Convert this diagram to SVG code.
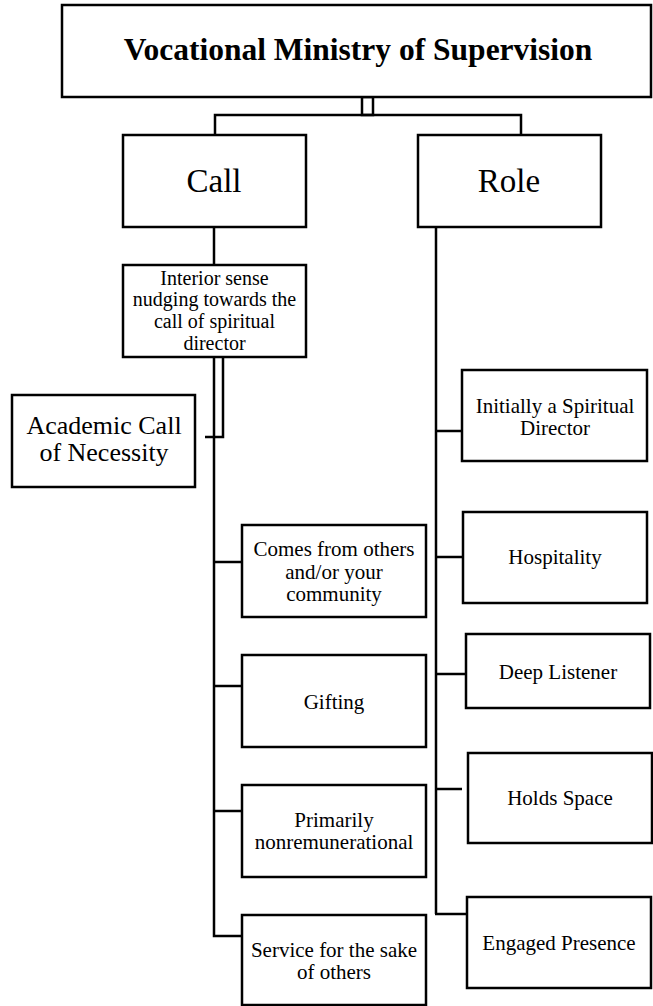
<svg xmlns="http://www.w3.org/2000/svg" width="653" height="1006" viewBox="0 0 653 1006">
<style>
.box{fill:#fff;stroke:#000;stroke-width:2.5}
.ln{fill:none;stroke:#000;stroke-width:2.5}
text{font-family:"Liberation Serif","Times New Roman",serif;fill:#000;text-anchor:middle}
.t{font-size:21px}
.m{font-size:20px}
.a{font-size:26px}
.h{font-size:33px}
.ti{font-size:31.5px;font-weight:bold}
</style>
<rect width="653" height="1006" fill="#fff"/>
<g id="connectors">
<rect class="ln" x="362" y="97" width="11" height="18"/>
<polyline class="ln" points="215,135 215,115 521,115 521,135"/>
<line class="ln" x1="214" y1="227" x2="214" y2="265"/>
<line class="ln" x1="436" y1="227" x2="436" y2="914"/>
<polyline class="ln" points="223,357 223,437 205,437"/>
<polyline class="ln" points="214,357 214,936 242,936"/>
<line class="ln" x1="214" y1="562" x2="242" y2="562"/>
<line class="ln" x1="214" y1="686" x2="242" y2="686"/>
<line class="ln" x1="214" y1="811" x2="242" y2="811"/>
<line class="ln" x1="436" y1="431" x2="462" y2="431"/>
<line class="ln" x1="436" y1="557" x2="463" y2="557"/>
<line class="ln" x1="436" y1="674" x2="466" y2="674"/>
<line class="ln" x1="436" y1="789" x2="462" y2="789"/>
<line class="ln" x1="435" y1="914" x2="467" y2="914"/>
</g>
<g id="top"><rect class="box" x="62" y="5" width="589" height="92"/><text class="ti" x="358" y="60">Vocational Ministry of Supervision</text></g>
<g id="call"><rect class="box" x="123" y="135" width="183" height="92"/><text class="h" x="214" y="192">Call</text></g>
<g id="role"><rect class="box" x="418" y="135" width="183" height="92"/><text class="h" x="509" y="192">Role</text></g>
<g id="interior"><rect class="box" x="123" y="265" width="183" height="92"/><text class="m" x="214.5" y="285">Interior sense</text><text class="m" x="214.5" y="306">nudging towards the</text><text class="m" x="214.5" y="328">call of spiritual</text><text class="m" x="214.5" y="350">director</text></g>
<g id="academic"><rect class="box" x="12" y="395" width="183" height="92"/><text class="a" x="104" y="434">Academic Call</text><text class="a" x="104" y="461">of Necessity</text></g>
<g id="comes"><rect class="box" x="242" y="525" width="184" height="92"/><text class="t" x="334" y="556">Comes from others</text><text class="t" x="334" y="579">and/or your</text><text class="t" x="334" y="601">community</text></g>
<g id="gifting"><rect class="box" x="242" y="655" width="184" height="92"/><text class="t" x="334" y="709">Gifting</text></g>
<g id="primarily"><rect class="box" x="242" y="785" width="184" height="92"/><text class="t" x="334" y="827">Primarily</text><text class="t" x="334" y="849">nonremunerational</text></g>
<g id="service"><rect class="box" x="242" y="915" width="184" height="90"/><text class="t" x="334" y="957">Service for the sake</text><text class="t" x="334" y="979">of others</text></g>
<g id="initially"><rect class="box" x="462" y="370" width="185" height="91"/><text class="t" x="555" y="413">Initially a Spiritual</text><text class="t" x="555" y="435">Director</text></g>
<g id="hospitality"><rect class="box" x="463" y="512" width="184" height="91"/><text class="t" x="555" y="564">Hospitality</text></g>
<g id="deep"><rect class="box" x="466" y="634" width="184" height="74"/><text class="t" x="558" y="679">Deep Listener</text></g>
<g id="holds"><rect class="box" x="468" y="753" width="184" height="90"/><text class="t" x="560" y="805">Holds Space</text></g>
<g id="engaged"><rect class="box" x="467" y="897" width="184" height="91"/><text class="t" x="559" y="950">Engaged Presence</text></g>
</svg>
